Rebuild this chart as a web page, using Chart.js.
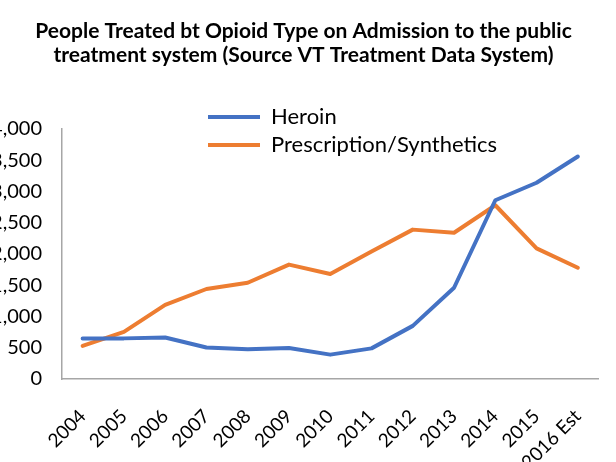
<!DOCTYPE html>
<html>
<head>
<meta charset="utf-8">
<title>People Treated by Opioid Type</title>
<script src="https://cdn.jsdelivr.net/npm/chart.js@4.4.1/dist/chart.umd.min.js"></script>
<style>
  html, body { margin: 0; padding: 0; background: #fff; overflow: hidden; }
  #wrap { position: absolute; left: -12px; top: 0; width: 632px; height: 462px; }
</style>
</head>
<body>
<div id="wrap"><canvas id="myChart"></canvas></div>
<script>
const years = ['2004', '2005', '2006', '2007', '2008', '2009', '2010', '2011', '2012', '2013', '2014', '2015', '2016 Est'];
const heroin = [650, 650, 665, 505, 475, 495, 390, 490, 850, 1460, 2860, 3140, 3560];
const prescription = [530, 755, 1185, 1440, 1540, 1830, 1680, 2040, 2390, 2340, 2780, 2090, 1780];
const yMin = 0;
const yMax = 4000;
const yStep = 500;
const titleLines = ['People Treated bt Opioid Type on Admission to the public', 'treatment system (Source VT Treatment Data System)'];

const FONT = 'Lato, "Open Sans", sans-serif';

// legend sits over the top of the plot, like the spreadsheet one
const legendOverlay = {
  id: 'legendOverlay',
  afterLayout(chart) {
    const lg = chart.legend;
    const area = chart.chartArea;
    lg.left = area.left + 140;
    lg.top = area.top - 29;
    lg.right = area.right;
    lg.bottom = lg.top + 200;
  }
};

const ctx = document.getElementById('myChart').getContext('2d');
const myChart = new Chart(ctx, {
  type: 'line',
  data: {
    labels: years,
    datasets: [{
      label: 'Heroin',
      data: heroin,
      borderColor: '#4472C4',
      backgroundColor: '#4472C4',
      borderWidth: 4,
      borderCapStyle: 'round',
      borderJoinStyle: 'round',
      pointRadius: 0,
      tension: 0
    }, {
      label: 'Prescription/Synthetics',
      data: prescription,
      borderColor: '#ED7D31',
      backgroundColor: '#ED7D31',
      borderWidth: 4,
      borderCapStyle: 'round',
      borderJoinStyle: 'round',
      pointRadius: 0,
      tension: 0
    }]
  },
  options: {
    responsive: true,
    maintainAspectRatio: false,
    animation: false,
    layout: { padding: { left: 0, right: 1, top: 0, bottom: 0 } },
    plugins: {
      title: {
        display: true,
        text: titleLines,
        color: '#000',
        font: { family: FONT, size: 21, weight: 'bold', lineHeight: '24px' },
        padding: { top: 19, bottom: 62 }
      },
      legend: {
        position: 'chartArea',
        align: 'start',
        labels: {
          usePointStyle: true,
          pointStyle: 'line',
          pointStyleWidth: 52,
          padding: 6,
          color: '#000',
          font: { family: FONT, size: 22 }
        }
      },
      tooltip: { enabled: false }
    },
    scales: {
      x: {
        offset: true,
        grid: { display: false, drawTicks: false },
        border: { display: true, color: '#a6a6a6', width: 1.5 },
        ticks: {
          autoSkip: false,
          minRotation: 45,
          maxRotation: 45,
          padding: 26,
          color: '#000',
          font: { family: FONT, size: 19 }
        },
        afterFit(scale) { scale.height = 83; }
      },
      y: {
        min: yMin,
        max: yMax,
        grid: { display: false, drawTicks: false },
        border: { display: true, color: '#a6a6a6', width: 1.5 },
        ticks: {
          stepSize: yStep,
          padding: 20,
          color: '#000',
          font: { family: FONT, size: 20 }
        },
        afterFit(scale) { scale.width = 74; }
      }
    }
  },
  plugins: [legendOverlay]
});
</script>
</body>
</html>
